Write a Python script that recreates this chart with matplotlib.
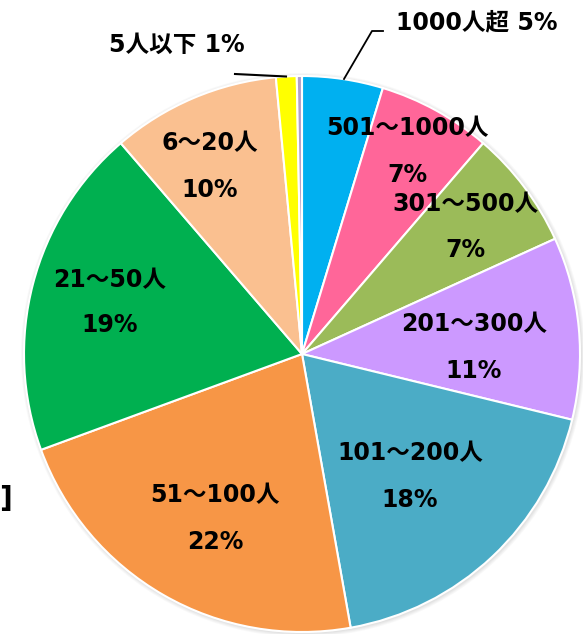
import matplotlib
matplotlib.use("Agg")
import matplotlib.pyplot as plt
from matplotlib.patches import Circle

# ---- data ----
categories = ["1000人超", "501～1000人", "301～500人", "201～300人", "101～200人",
              "51～100人", "21～50人", "6～20人", "5人以下", "不明"]
values = [4.7, 6.6, 6.9, 10.6, 18.4, 22.2, 19.3, 9.8, 1.2, 0.3]
colors = ["#00B0F0", "#FF6699", "#9BBB59", "#CC99FF", "#4BACC6",
          "#F79646", "#00B050", "#FAC090", "#FFFF00", "#B1A0C7"]

W, H = 583, 634
fig = plt.figure(figsize=(W / 100, H / 100), dpi=100)
ax = fig.add_axes([0, 0, 1, 1])

cx, cy, R = 302, H - 354, 278

# soft shadow
for i, a in enumerate([0.05, 0.05, 0.06, 0.07]):
    ax.add_patch(Circle((cx + 1, cy - 1), R + 4 - i, color="#808080", alpha=a, lw=0, zorder=0))

ax.pie(values, colors=colors, startangle=90, counterclock=False,
       center=(cx, cy), radius=R, frame=True,
       wedgeprops=dict(edgecolor="white", linewidth=1.5))
ax.set_xlim(0, W)
ax.set_ylim(0, H)
ax.set_aspect("equal")
ax.axis("off")

fam = ["DejaVu Sans", "Noto Sans CJK JP"]
fs = 17

def pct(v):
    return f"{int(v + 0.5)}%"

# inside labels (name, pct) positions in pixel coords (x, y from top)
inside = {
    1: (407, 128, 175),
    2: (465, 204, 250),
    3: (474, 324, 371),
    4: (410, 453, 500),
    5: (215, 495, 542),
    6: (110, 280, 325),
    7: (210, 143, 190),
}
for idx, (x, y1, y2) in inside.items():
    ax.text(x, H - y1, categories[idx], ha="center", va="center",
            fontsize=fs, fontweight="bold", family=fam, zorder=5)
    ax.text(x, H - y2, pct(values[idx]), ha="center", va="center",
            fontsize=fs, fontweight="bold", family=fam, zorder=5)

# outside labels with leader lines
ax.text(477, H - 22, f"{categories[0]} {pct(values[0])}", ha="center", va="center",
        fontsize=fs, fontweight="bold", family=fam)
ax.plot([344, 372, 383], [H - 79, H - 31, H - 31], color="black", lw=1.3)

ax.text(177, H - 45, f"{categories[8]} {pct(values[8])}", ha="center", va="center",
        fontsize=fs, fontweight="bold", family=fam)
ax.plot([235, 286], [H - 74, H - 76.5], color="black", lw=1.5)

# fragment of text at the left edge
ax.text(-1, H - 499, "]", ha="left", va="center", fontsize=20,
        fontweight="bold", family=["DejaVu Sans"])

fig.savefig("out.png", dpi=100)
